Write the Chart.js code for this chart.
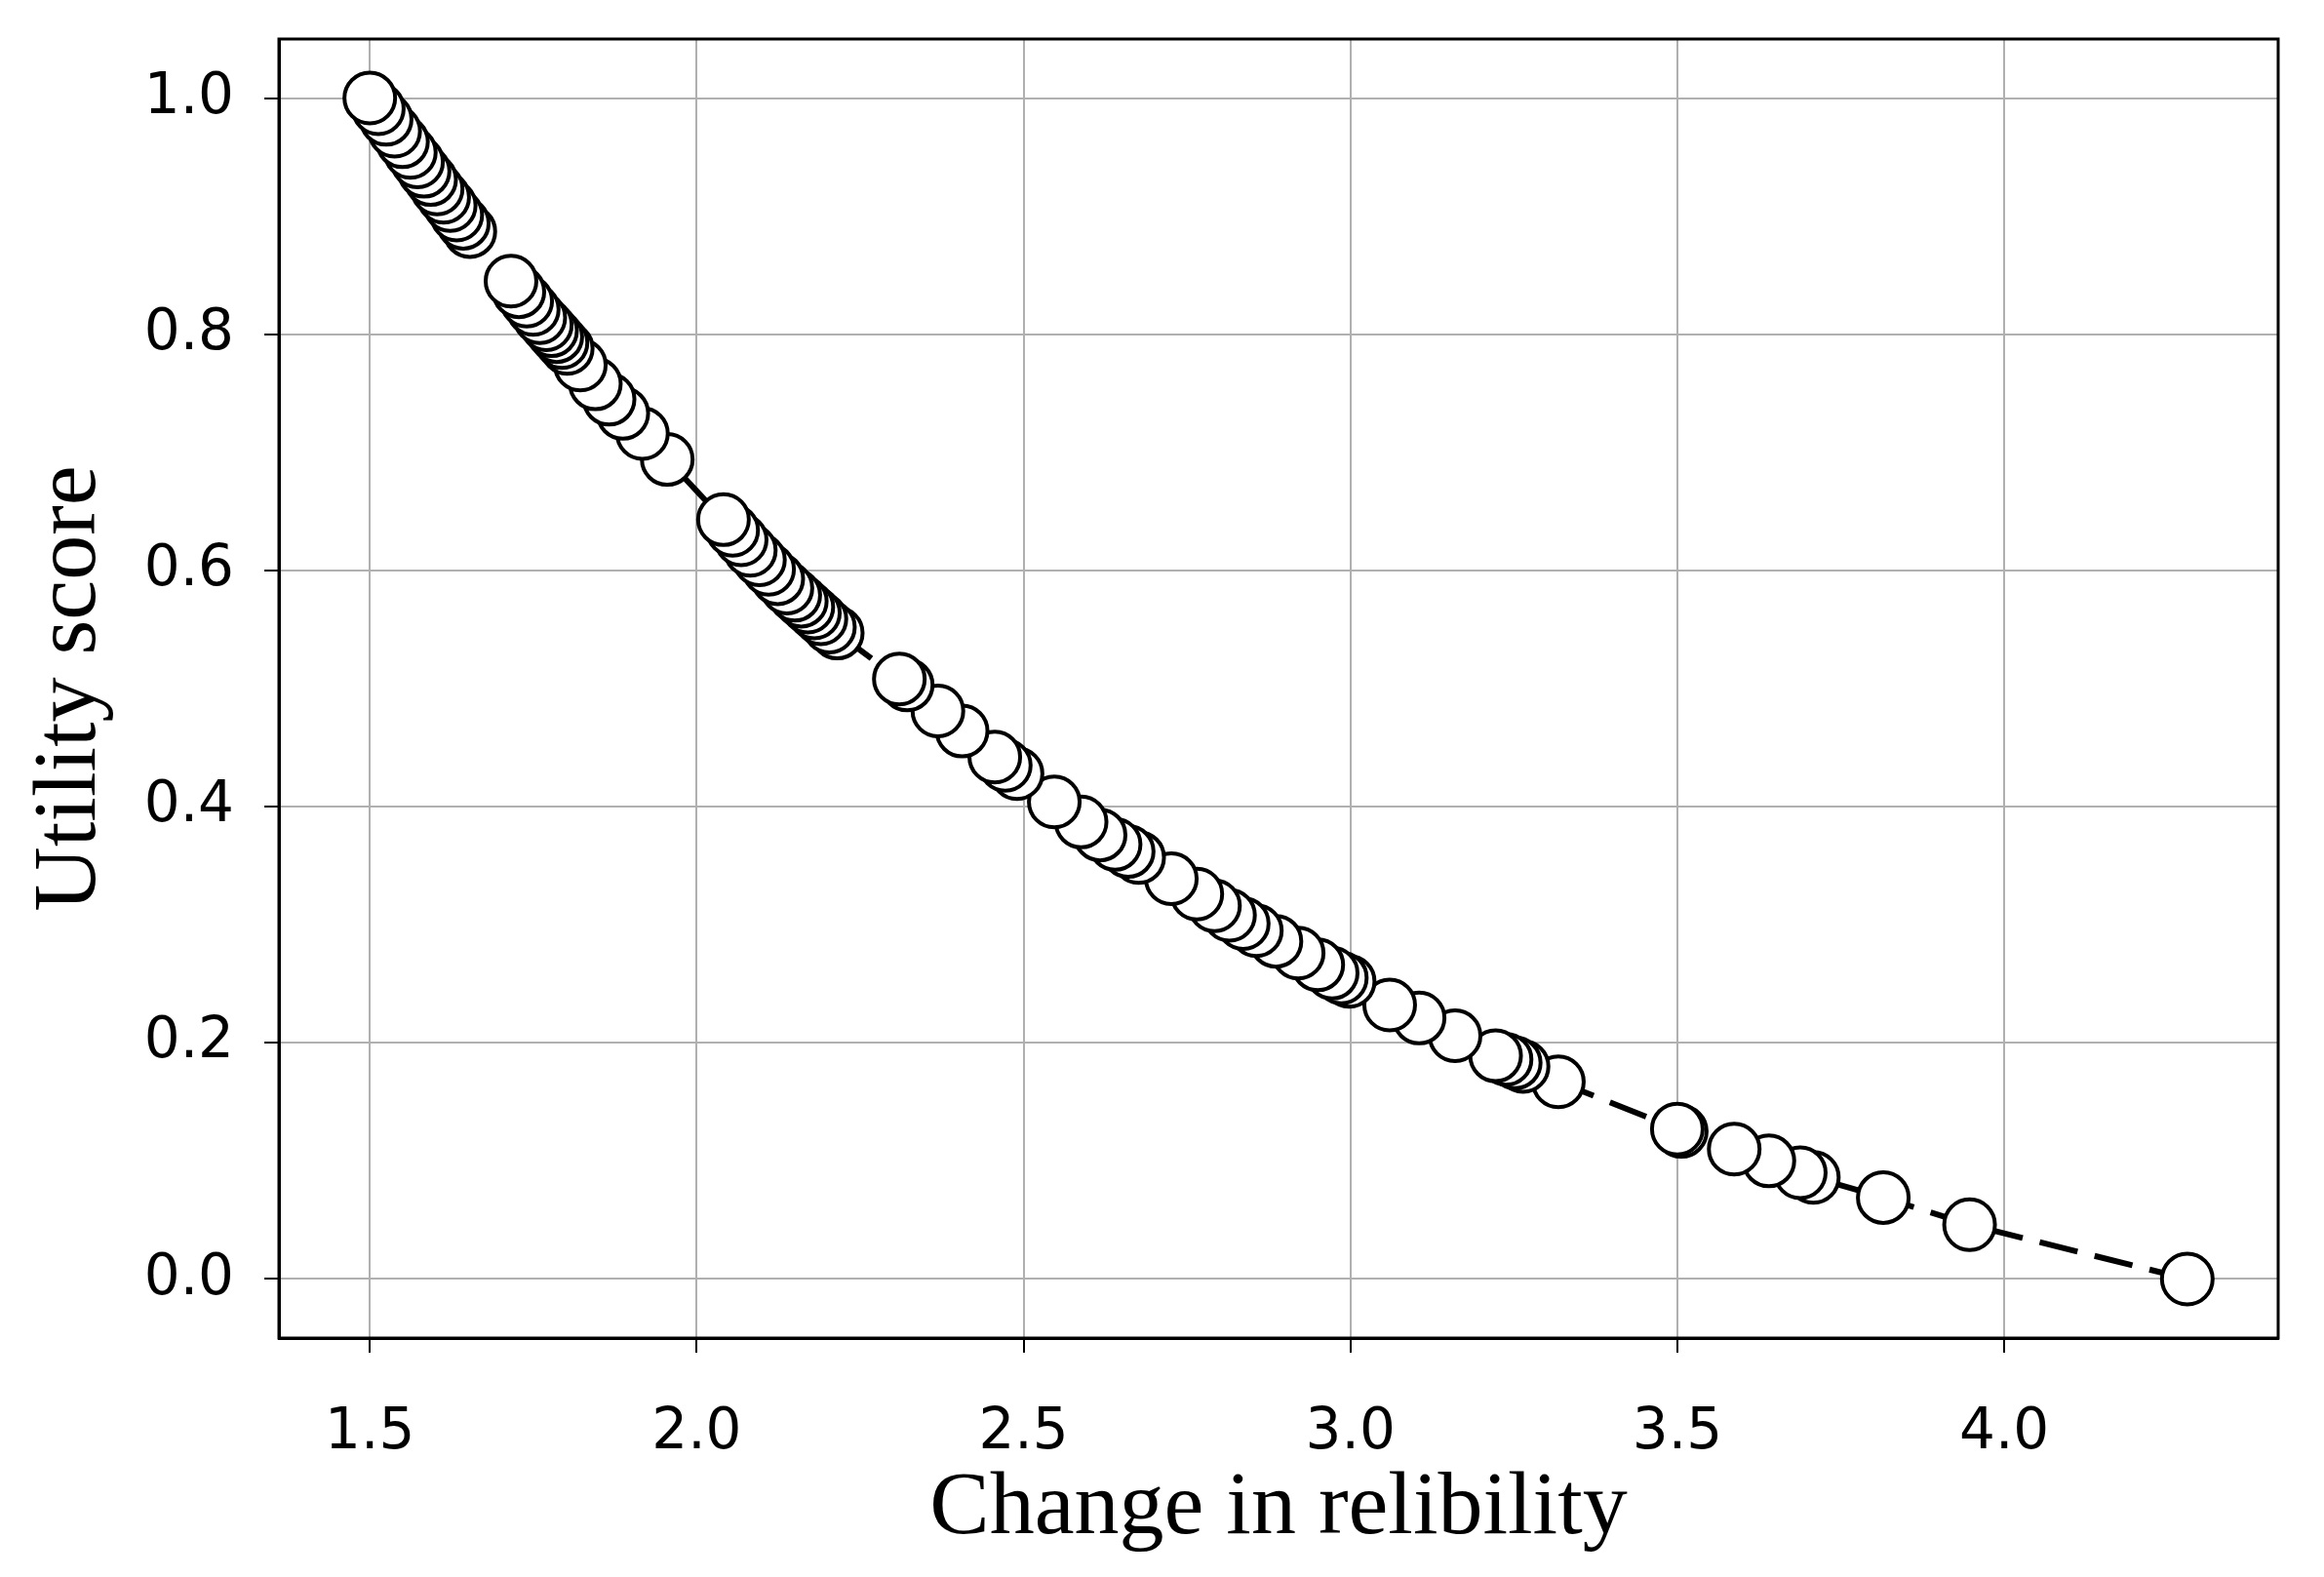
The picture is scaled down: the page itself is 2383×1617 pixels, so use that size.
<!DOCTYPE html>
<html>
<head>
<meta charset="utf-8">
<title>Utility score vs change in reliability</title>
<script src="https://cdn.jsdelivr.net/npm/chart.js@4.4.1/dist/chart.umd.min.js"></script>
<style>
  html, body { margin: 0; padding: 0; background: #fff; }
  #wrap { width: 2383px; height: 1617px; }
</style>
</head>
<body>
<div id="wrap"><canvas id="chart" width="2383" height="1617"></canvas></div>
<script>
'use strict';

// ── DATA (ordered right→left so left markers sit on top) ──
const reliability = [
  4.280, 3.947, 3.815, 3.708, 3.688, 3.640, 3.587, 3.506, 3.500,
  3.318, 3.264, 3.252, 3.238, 3.222, 3.160, 3.105, 3.060,
  2.998, 2.986, 2.972, 2.950, 2.920, 2.886, 2.856, 2.836, 2.815, 2.792, 2.765, 2.726,
  2.676, 2.660, 2.640, 2.617, 2.588, 2.547, 2.490, 2.472, 2.456, 2.406, 2.369, 2.322, 2.310,
  2.215, 2.203, 2.190, 2.180, 2.170, 2.160, 2.150, 2.138, 2.124, 2.110, 2.096, 2.082, 2.068, 2.055, 2.041,
  1.955, 1.917, 1.887, 1.866, 1.845, 1.822, 1.802, 1.794, 1.786, 1.778, 1.770, 1.760, 1.750, 1.740, 1.728, 1.716,
  1.653, 1.643, 1.633, 1.623, 1.613, 1.603, 1.593, 1.583, 1.573, 1.562, 1.550, 1.538, 1.525, 1.513, 1.500,
];
const utility = [
  0.000, 0.046, 0.069, 0.086, 0.090, 0.100, 0.110, 0.125, 0.127,
  0.167, 0.180, 0.183, 0.186, 0.189, 0.206, 0.221, 0.232,
  0.252, 0.255, 0.259, 0.266, 0.276, 0.286, 0.295, 0.301, 0.308, 0.316, 0.326, 0.339,
  0.357, 0.362, 0.368, 0.376, 0.387, 0.404, 0.428, 0.435, 0.442, 0.464, 0.481, 0.503, 0.508,
  0.547, 0.552, 0.559, 0.564, 0.569, 0.574, 0.579, 0.585, 0.593, 0.601, 0.609, 0.617, 0.626, 0.634, 0.643,
  0.694, 0.716, 0.733, 0.745, 0.758, 0.774, 0.788, 0.793, 0.798, 0.803, 0.808, 0.814, 0.821, 0.828, 0.836, 0.845,
  0.887, 0.894, 0.901, 0.909, 0.916, 0.923, 0.931, 0.938, 0.946, 0.954, 0.963, 0.972, 0.982, 0.991, 1.000,
];

const xTicks = [1.5, 2.0, 2.5, 3.0, 3.5, 4.0];
const yTicks = [0.0, 0.2, 0.4, 0.6, 0.8, 1.0];

const xTitle = 'Change in relibility';
const yTitle = 'Utility score';

// ── STYLE ────────────────────────────────────────────────────────────────────
const GRID_COLOR = '#b0b0b0';
const TICK_FONT  = { family: 'DejaVu Sans', size: 58 };

// draws the top and right spines (Chart.js only draws the axis borders)
const frameBox = {
  id: 'frameBox',
  afterDatasetsDraw(chart) {
    const { ctx, chartArea: a } = chart;
    ctx.save();
    ctx.strokeStyle = '#000';
    ctx.lineWidth = 3;
    ctx.strokeRect(a.left, a.top, a.right - a.left, a.bottom - a.top);
    ctx.restore();
  },
};

// fixed axis sizes; drop the label-overflow padding so the plot box is exact
function fixX(s) {
  s.height = 245;
  s.paddingLeft = 0;
  s.paddingRight = 0;
}
function fixY(s) {
  s.width = 286;
  s.paddingTop = 0;
  s.paddingBottom = 0;
}

const points = reliability.map((x, i) => ({ x, y: utility[i] }));

new Chart(document.getElementById('chart'), {
  type: 'scatter',
  data: {
    datasets: [{
      data: points,
      showLine: true,
      tension: 0,
      borderColor: '#000',
      borderWidth: 6,
      borderDash: [40, 18],
      pointRadius: 26,
      pointHoverRadius: 26,
      pointBackgroundColor: '#fff',
      pointBorderColor: '#000',
      pointBorderWidth: 4,
    }],
  },
  options: {
    responsive: false,
    animation: false,
    devicePixelRatio: 1,
    layout: { padding: { top: 40, right: 47, left: 0, bottom: 0 } },
    plugins: {
      legend: { display: false },
      tooltip: { enabled: false },
    },
    scales: {
      x: {
        type: 'linear',
        min: 1.361,
        max: 4.419,
        afterBuildTicks: s => { s.ticks = xTicks.map(v => ({ value: v })); },
        afterFit: fixX,
        ticks: {
          color: '#000',
          font: TICK_FONT,
          padding: 48,
          maxRotation: 0,
          callback: v => v.toFixed(1),
        },
        grid: {
          color: GRID_COLOR,
          lineWidth: 2,
          tickColor: '#000',
          tickLength: 15,
          tickWidth: 2,
        },
        border: { display: true, color: '#000', width: 3 },
        title: {
          display: true,
          text: xTitle,
          color: '#000',
          font: { family: 'Liberation Serif', size: 92, lineHeight: 1 },
          padding: { top: 0, bottom: 23 },
        },
      },
      y: {
        type: 'linear',
        min: -0.05,
        max: 1.05,
        afterBuildTicks: s => { s.ticks = yTicks.map(v => ({ value: v })); },
        afterFit: fixY,
        ticks: {
          color: '#000',
          font: TICK_FONT,
          padding: 31,
          callback: v => v.toFixed(1),
        },
        grid: {
          color: GRID_COLOR,
          lineWidth: 2,
          tickColor: '#000',
          tickLength: 15,
          tickWidth: 2,
        },
        border: { display: true, color: '#000', width: 3 },
        title: {
          display: true,
          text: yTitle,
          color: '#000',
          font: { family: 'Liberation Serif', size: 92, lineHeight: 1 },
          padding: { top: 27, bottom: 0 },
        },
      },
    },
  },
  plugins: [frameBox],
});
</script>
</body>
</html>
